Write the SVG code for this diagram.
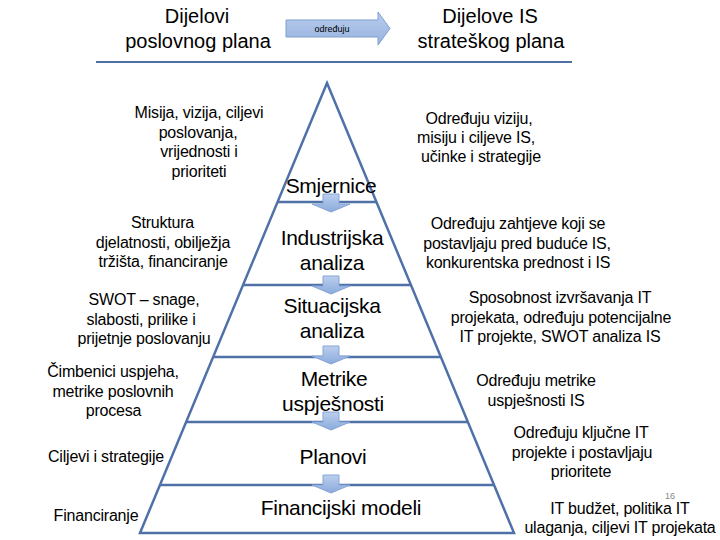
<svg xmlns="http://www.w3.org/2000/svg" width="720" height="540" viewBox="0 0 720 540">
<defs>
<linearGradient id="ag" x1="0" y1="0" x2="0" y2="1">
<stop offset="0" stop-color="#bccfee"/>
<stop offset="1" stop-color="#8aaadc"/>
</linearGradient>
<linearGradient id="hg" x1="0" y1="0" x2="0" y2="1">
<stop offset="0" stop-color="#b9cced"/>
<stop offset="1" stop-color="#97b3df"/>
</linearGradient>
</defs>
<style>
text{font-family:"Liberation Sans",Arial,sans-serif;fill:#000;text-anchor:middle}
.h{font-size:20px}
.p{font-size:21px;letter-spacing:-0.3px}
.s{font-size:16px;letter-spacing:-0.2px}
.ln{stroke:#4f71a8;stroke-width:2.5;fill:none}
.arr{fill:url(#ag);stroke:#86a5d6;stroke-width:1}
</style>
<rect width="720" height="540" fill="#fff"/>

<g id="header">
<text class="h" x="197" y="23">Dijelovi</text>
<text class="h" x="198" y="48">poslovnog plana</text>
<text class="h" x="490" y="23">Dijelove IS</text>
<text class="h" x="491" y="48">strateškog plana</text>
<line x1="96" y1="62" x2="572" y2="62" stroke="#4f71a8" stroke-width="2"/>
</g>

<g id="header-arrow">
<path d="M286,20 H378 V12 L390,28.5 L378,45 V37 H286 Z" fill="url(#hg)" stroke="#7f9fcf" stroke-width="1"/>
<text x="332" y="31.5" style="font-size:9px">određuju</text>
</g>

<g id="pyramid">
<path class="ln" d="M327,83 L514,533 H140 Z"/>
<line class="ln" x1="277.5" y1="202" x2="376.5" y2="202"/>
<line class="ln" x1="243" y1="285" x2="411" y2="285"/>
<line class="ln" x1="213" y1="357" x2="441" y2="357"/>
<line class="ln" x1="186" y1="422" x2="468" y2="422"/>
<line class="ln" x1="160" y1="485" x2="494" y2="485"/>
</g>

<g id="connectors">
<path class="arr" d="M323,194 H339 V204 H350 L331,212 L312,204 H323 Z"/>
<path class="arr" d="M323,276 H339 V286 H350 L331,294 L312,286 H323 Z"/>
<path class="arr" d="M323,346 H339 V356 H350 L331,364 L312,356 H323 Z"/>
<path class="arr" d="M323,412 H339 V422 H350 L331,430 L312,422 H323 Z"/>
<path class="arr" d="M323,475 H339 V485 H350 L331,493 L312,485 H323 Z"/>
</g>

<g id="level-smjernice">
<text class="p" x="331" y="193">Smjernice</text>
</g>
<g id="level-industrijska">
<text class="p" x="332" y="245">Industrijska</text>
<text class="p" x="332" y="270">analiza</text>
</g>
<g id="level-situacijska">
<text class="p" x="332" y="313">Situacijska</text>
<text class="p" x="332" y="338">analiza</text>
</g>
<g id="level-metrike">
<text class="p" x="334" y="386">Metrike</text>
<text class="p" x="333" y="411">uspješnosti</text>
</g>
<g id="level-planovi">
<text class="p" x="333" y="464">Planovi</text>
</g>
<g id="level-financijski">
<text class="p" x="341" y="515">Financijski modeli</text>
</g>

<g id="left-1">
<text class="s" x="199" y="118">Misija, vizija, ciljevi</text>
<text class="s" x="198" y="137.5">poslovanja,</text>
<text class="s" x="199" y="157">vrijednosti i</text>
<text class="s" x="199" y="176.5">prioriteti</text>
</g>
<g id="left-2">
<text class="s" x="162.5" y="228">Struktura</text>
<text class="s" x="163" y="247.5">djelatnosti, obilježja</text>
<text class="s" x="163" y="267">tržišta, financiranje</text>
</g>
<g id="left-3">
<text class="s" x="144" y="305">SWOT – snage,</text>
<text class="s" x="141" y="324.5">slabosti, prilike i</text>
<text class="s" x="144" y="344">prijetnje poslovanju</text>
</g>
<g id="left-4">
<text class="s" x="113" y="377">Čimbenici uspjeha,</text>
<text class="s" x="113" y="396.5">metrike poslovnih</text>
<text class="s" x="113.5" y="416">procesa</text>
</g>
<g id="left-5">
<text class="s" x="106" y="462">Ciljevi i strategije</text>
</g>
<g id="left-6">
<text class="s" x="96" y="521">Financiranje</text>
</g>

<g id="right-1">
<text class="s" x="479" y="124">Određuju viziju,</text>
<text class="s" x="476" y="143">misiju i ciljeve IS,</text>
<text class="s" x="481" y="162">učinke i strategije</text>
</g>
<g id="right-2">
<text class="s" x="518" y="229">Određuju zahtjeve koji se</text>
<text class="s" x="517" y="248.5">postavljaju pred buduće IS,</text>
<text class="s" x="518" y="268">konkurentska prednost i IS</text>
</g>
<g id="right-3">
<text class="s" x="560" y="303">Sposobnost izvršavanja IT</text>
<text class="s" x="561" y="322.5">projekata, određuju potencijalne</text>
<text class="s" x="560" y="342">IT projekte, SWOT analiza IS</text>
</g>
<g id="right-4">
<text class="s" x="536" y="386">Određuju metrike</text>
<text class="s" x="536" y="405.5">uspješnosti IS</text>
</g>
<g id="right-5">
<text class="s" x="581" y="438">Određuju ključne IT</text>
<text class="s" x="582" y="457.5">projekte i postavljaju</text>
<text class="s" x="581" y="477">prioritete</text>
</g>
<g id="right-6">
<text class="s" x="620" y="514">IT budžet, politika IT</text>
<text class="s" x="620" y="533">ulaganja, ciljevi IT projekata</text>
<text x="670" y="499" style="font-size:9px;fill:#888">16</text>
</g>
</svg>
